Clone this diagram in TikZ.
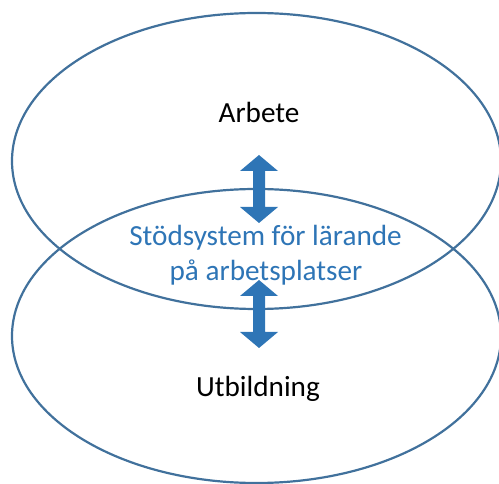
\documentclass[tikz,border=0pt]{standalone}
\usepackage{fontspec}
\setmainfont{Carlito}
\definecolor{ringblue}{HTML}{41719C}
\definecolor{txtblue}{HTML}{2E75B6}
\tikzset{
  ring/.style={draw=ringblue, line width=2.2pt},
  label/.style={font=\fontsize{29.2}{35}\selectfont, inner sep=0pt, anchor=base},
  dblarrow/.style={fill=txtblue, draw=none}
}
\begin{document}
\begin{tikzpicture}[x=1pt,y=-1pt]
\useasboundingbox (0,0) rectangle (499,484);
\draw[ring] (256.5,161) ellipse [x radius=244.5, y radius=148];
\draw[ring] (256.5,336) ellipse [x radius=244.5, y radius=147];
\node[label] (arbete) at (259,123) {Arbete};
\node[label] (utb) at (258,397) {Utbildning};
\node[label, text=txtblue] (stod1) at (265.5,246) {Stödsystem för lärande};
\node[label, text=txtblue] (stod2) at (266,281) {på arbetsplatser};
\fill[dblarrow] (259,155) -- (278,171) -- (265,171) -- (265,207) -- (278,207) -- (259,223) -- (240,207) -- (253,207) -- (253,171) -- (240,171) -- cycle;
\fill[dblarrow] (259,280) -- (278,296) -- (265,296) -- (265,332) -- (278,332) -- (259,348) -- (240,332) -- (253,332) -- (253,296) -- (240,296) -- cycle;
\end{tikzpicture}
\end{document}
